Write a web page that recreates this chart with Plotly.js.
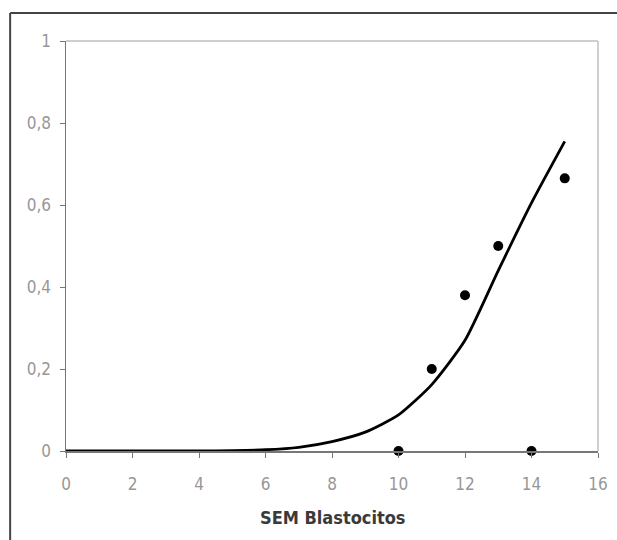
<!DOCTYPE html>
<html>
<head>
<meta charset="utf-8">
<script src="https://cdn.plot.ly/plotly-3.0.1.min.js"></script>
<style>html,body{margin:0;padding:0;background:#fff;}#chart{width:617px;height:540px;}</style>
</head>
<body>
<div id="chart"></div>
<script>
// Observed data points
const obsX = [10, 11, 12, 13, 14, 15];
const obsY = [0, 0.2, 0.38, 0.5, 0, 0.665];
// Fitted curve
const fitX = [0, 1, 2, 3, 4, 5, 6, 7, 8, 9, 10, 11, 12, 13, 14, 15];
const fitY = [0, 0, 0, 0, 0, 0.001, 0.003, 0.009, 0.023, 0.046, 0.088, 0.162, 0.27, 0.44, 0.605, 0.755];
const xTicks = [0, 2, 4, 6, 8, 10, 12, 14, 16];
const yTicks = [0, 0.2, 0.4, 0.6, 0.8, 1];
const xTitle = 'SEM Blastocitos';

const tickFont = {family: '"Liberation Sans Narrow", "DejaVu Sans Condensed", "Liberation Sans", Arial, sans-serif', size: 17, color: '#979797'};

const traces = [
  {x: fitX, y: fitY, mode: 'lines', line: {color: '#000', width: 2.8, shape: 'spline', smoothing: 0.6}, hoverinfo: 'skip'},
  {x: obsX, y: obsY, mode: 'markers', marker: {color: '#000', size: 10}, cliponaxis: false}
];

const layout = {
  width: 617, height: 540,
  margin: {l: 66, r: 19, t: 41, b: 89},
  paper_bgcolor: '#fff', plot_bgcolor: '#fff',
  showlegend: false,
  separators: ',.',
  xaxis: {
    range: [0, 16], tickvals: xTicks, ticks: 'outside', ticklen: 5, tickcolor: '#777',
    showgrid: false, zeroline: false, showline: true, linecolor: '#777', linewidth: 1.5,
    tickfont: tickFont, ticklabelstandoff: 12, fixedrange: true
  },
  yaxis: {
    range: [0, 1], tickvals: yTicks, ticks: 'outside', ticklen: 5, tickcolor: '#777',
    showgrid: false, zeroline: false, showline: true, linecolor: '#777', linewidth: 1.5,
    tickfont: tickFont, tickformat: '.1~f', ticklabelstandoff: 5, fixedrange: true
  },
  annotations: [
    {text: '<b>' + xTitle + '</b>', xref: 'paper', yref: 'paper', x: 0.5, y: -0.161,
     xanchor: 'center', yanchor: 'middle', showarrow: false,
     font: {family: '"Liberation Sans Narrow", "DejaVu Sans Condensed", "Liberation Sans", Arial, sans-serif', size: 18, color: '#3a3a3a'}}
  ],
  shapes: [
    {type: 'line', xref: 'paper', yref: 'paper', x0: 0, x1: 1, y0: 1, y1: 1, line: {color: '#cfcfcf', width: 2}},
    {type: 'line', xref: 'paper', yref: 'paper', x0: 1, x1: 1, y0: 0, y1: 1, line: {color: '#cfcfcf', width: 2}},
    {type: 'line', xref: 'paper', yref: 'paper', x0: -0.105, x1: 1.1, y0: 1.0683, y1: 1.0683, line: {color: '#444', width: 2}},
    {type: 'line', xref: 'paper', yref: 'paper', x0: -0.105, x1: -0.105, y0: -0.4, y1: 1.0683, line: {color: '#444', width: 2}}
  ]
};

Plotly.newPlot('chart', traces, layout, {staticPlot: true, displayModeBar: false});
</script>
</body>
</html>
